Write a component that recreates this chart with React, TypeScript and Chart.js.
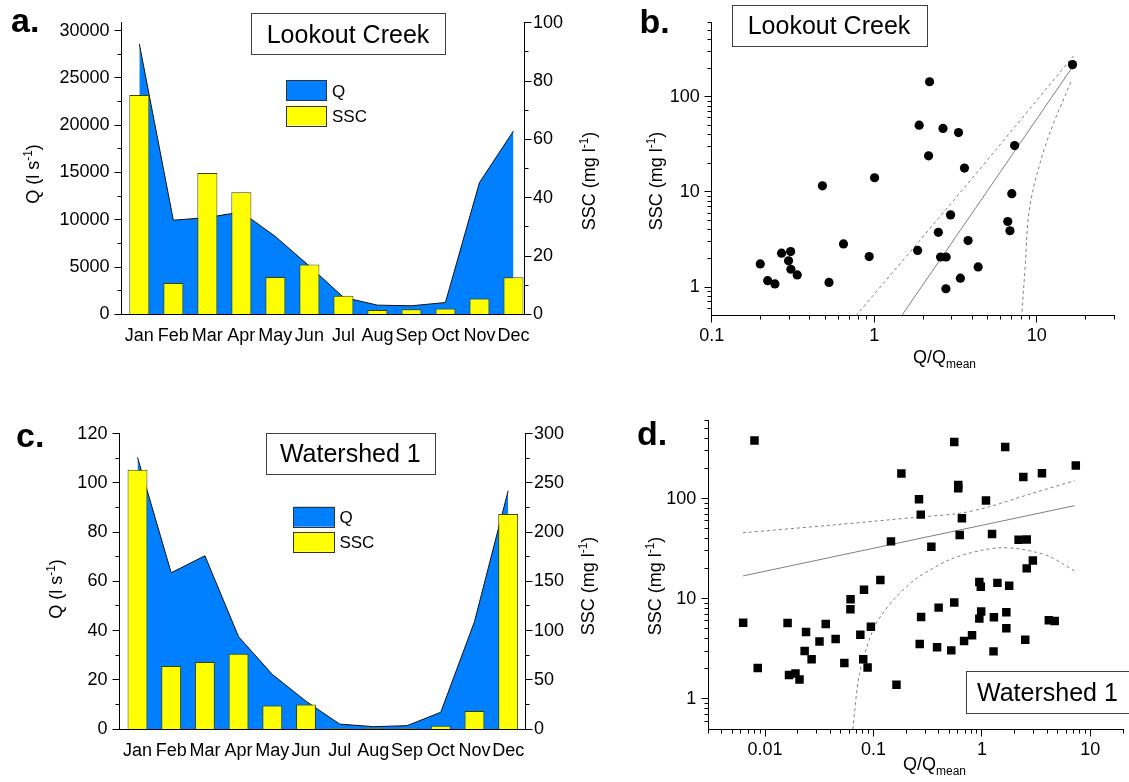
import React, { useEffect, useRef } from 'react';
import { Chart, registerables } from 'chart.js';

Chart.register(...registerables);

const W = 1129;
const H = 782;
const FONT = '"Liberation Sans", Arial, Helvetica, sans-serif';
Chart.defaults.font.family = FONT;
Chart.defaults.font.size = 18;
Chart.defaults.color = '#000';

// ---------- shared ----------
const MONTHS = ['Jan', 'Feb', 'Mar', 'Apr', 'May', 'Jun', 'Jul', 'Aug', 'Sep', 'Oct', 'Nov', 'Dec'];
const MONTH_NUM = [1, 2, 3, 4, 5, 6, 7, 8, 9, 10, 11, 12];

// ---------- panel a: Lookout Creek monthly ----------
const LC_Q = [28600, 9950, 10230, 10820, 8230, 5100, 1800, 970, 900, 1245, 13930, 19390];
const LC_SSC = [75.2, 10.7, 48.5, 41.9, 12.8, 17.1, 6.4, 1.45, 1.7, 2.0, 5.4, 12.7];
const LC_Q_TICKS = [0, 5000, 10000, 15000, 20000, 25000, 30000];
const LC_Q_MINOR = [2500, 7500, 12500, 17500, 22500, 27500];
const LC_SSC_TICKS = [0, 20, 40, 60, 80, 100];
const LC_SSC_MINOR = [10, 30, 50, 70, 90];

// ---------- panel c: Watershed 1 monthly ----------
const WS_Q = [110.4, 63.5, 70.4, 37.5, 22.2, 11.3, 2.0, 0.95, 1.35, 6.8, 43.6, 96.8];
const WS_SSC = [263.5, 64, 68, 76.5, 24, 25, 0.7, 0.7, 0.7, 3.4, 18.3, 218.4];
const WS_Q_TICKS = [0, 20, 40, 60, 80, 100, 120];
const WS_Q_MINOR = [10, 30, 50, 70, 90, 110];
const WS_SSC_TICKS = [0, 50, 100, 150, 200, 250, 300];
const WS_SSC_MINOR = [25, 75, 125, 175, 225, 275];

// ---------- panel b: Lookout Creek SSC vs Q/Qmean ----------
const LC_RATIO = [0.199, 0.221, 0.245, 0.269, 0.306, 0.297, 0.307, 0.336, 0.48, 0.527, 0.647, 0.931, 1.005, 2.19, 1.89, 2.16, 2.65, 3.3, 3.59, 2.95, 2.48, 1.85, 2.56, 2.77, 3.78, 2.76, 3.39, 4.36, 6.63, 6.84, 7.02, 7.31, 16.6];
const LC_CONC = [1.75, 1.166, 1.08, 2.27, 2.36, 1.89, 1.54, 1.34, 11.6, 1.12, 2.84, 2.09, 14.1, 144, 50.3, 24.0, 46.5, 42.1, 17.8, 5.74, 3.76, 2.43, 2.07, 2.07, 3.08, 0.96, 1.24, 1.63, 4.89, 3.91, 9.59, 30.7, 218];
const LC_FIT_X = [1.475, 16.97];
const LC_FIT_Y = [0.5, 218];
const LC_UP_X = [0.772, 3.6, 16.8];
const LC_UP_Y = [0.5, 11.2, 268];
const LC_LO_X = [16.2, 11.5, 9.09, 8.47, 8.08];
const LC_LO_Y = [143, 33.4, 7.2, 1.56, 0.5];

// ---------- panel d: Watershed 1 SSC vs Q/Qmean ----------
const WS_RATIO = [0.008, 0.00629, 0.00857, 0.01615, 0.01665, 0.0191, 0.0208, 0.0239, 0.0232, 0.0269, 0.0318, 0.0363, 0.0448, 0.0539, 0.0615, 0.0613, 0.0818, 0.0757, 0.0947, 0.0805, 0.0883, 0.1158, 0.145, 0.181, 0.163, 0.263, 0.273, 0.342, 0.275, 0.267, 0.399, 0.386, 0.522, 0.556, 0.556, 0.605, 0.605, 0.654, 0.624, 0.685, 0.811, 1.09, 1.24, 0.947, 0.977, 0.985, 0.947, 1.39, 1.785, 1.29, 1.28, 1.68, 1.68, 1.64, 2.18, 2.59, 2.41, 2.59, 2.95, 2.51, 3.58, 4.14, 4.69, 7.34];
const WS_CONC = [381, 5.77, 2.03, 5.73, 1.73, 1.79, 1.56, 4.65, 3.0, 2.48, 3.75, 5.6, 3.96, 2.28, 9.89, 7.85, 12.3, 4.38, 5.26, 2.48, 2.06, 15.4, 37.4, 178, 1.38, 98.5, 69.2, 33.0, 6.58, 3.53, 8.15, 3.27, 3.05, 367, 9.15, 137, 127, 63.5, 43.3, 3.78, 4.31, 95.5, 44.3, 14.7, 13.2, 7.44, 6.33, 14.4, 13.5, 6.53, 2.98, 7.32, 5.06, 327, 38.8, 39.1, 164, 20.1, 24.1, 3.9, 179, 6.09, 6.0, 214];
const WS_FIT_X = [0.00627, 7.17];
const WS_FIT_Y = [16.9, 85.1];
const WS_UP_X = [0.00627, 0.0422, 0.247, 0.618, 1.17, 2.92, 7.17];
const WS_UP_Y = [45.6, 54.5, 65, 71.3, 83, 113, 151];
const WS_LO_X = [0.0645, 0.0743, 0.0985, 0.12, 0.162, 0.24, 0.33, 0.5, 0.72, 1.0, 1.45, 2.2, 3.2, 4.2, 5.5, 7.17];
const WS_LO_Y = [0.5, 1.78, 4.83, 7.0, 10.4, 15.5, 19.3, 24.5, 28, 30.5, 32.3, 31.5, 29, 26.5, 22.5, 18.9];

// ---------- log axis ticks ----------
const LOG_Y_TICKS = [1, 10, 100];
const LOG_Y_MINOR = [0.6, 0.7, 0.8, 0.9, 2, 3, 4, 5, 6, 7, 8, 9, 20, 30, 40, 50, 60, 70, 80, 90, 200, 300, 400, 500, 600];
const B_X_TICKS = [0.1, 1, 10];
const B_X_MINOR = [0.2, 0.3, 0.4, 0.5, 0.6, 0.7, 0.8, 0.9, 2, 3, 4, 5, 6, 7, 8, 9, 20, 30];
const D_X_TICKS = [0.01, 0.1, 1, 10];
const D_X_MINOR = [0.003, 0.004, 0.005, 0.006, 0.007, 0.008, 0.009, 0.02, 0.03, 0.04, 0.05, 0.06, 0.07, 0.08, 0.09, 0.2, 0.3, 0.4, 0.5, 0.6, 0.7, 0.8, 0.9, 2, 3, 4, 5, 6, 7, 8, 9, 20];

const Q_COLOR = '#0080FF';
const SSC_COLOR = '#FFFF00';
const BAR_EDGE = '#404000';
const LINE_GRAY = '#808080';

const AXW = 80;
const AXH = 60;

type Seg = { t: string; s?: 'sup' | 'sub' };

function rich(ctx: CanvasRenderingContext2D, segs: Seg[], x: number, y: number, size: number, rotate: boolean, align: 'left' | 'center') {
  ctx.save();
  ctx.translate(x, y);
  if (rotate) ctx.rotate(-Math.PI / 2);
  ctx.fillStyle = '#000';
  ctx.textAlign = 'left';
  ctx.textBaseline = 'alphabetic';
  const fontOf = (sg: Seg) => `${sg.s ? Math.round(size * 0.66) : size}px ${FONT}`;
  let total = 0;
  segs.forEach((sg) => {
    ctx.font = fontOf(sg);
    total += ctx.measureText(sg.t).width;
  });
  let cx = align === 'center' ? -total / 2 : 0;
  segs.forEach((sg) => {
    ctx.font = fontOf(sg);
    const dy = sg.s === 'sup' ? -size * 0.4 : sg.s === 'sub' ? size * 0.3 : 0;
    ctx.fillText(sg.t, cx, dy);
    cx += ctx.measureText(sg.t).width;
  });
  ctx.restore();
}

function panelLetter(ctx: CanvasRenderingContext2D, t: string, x: number, y: number) {
  ctx.save();
  ctx.font = `bold 34px ${FONT}`;
  ctx.fillStyle = '#000';
  ctx.textAlign = 'left';
  ctx.textBaseline = 'alphabetic';
  ctx.fillText(t, x, y);
  ctx.restore();
}

function titleBox(ctx: CanvasRenderingContext2D, t: string, x0: number, y0: number, x1: number, y1: number, tx: number, base: number, align: 'center' | 'left') {
  ctx.save();
  ctx.fillStyle = '#fff';
  ctx.fillRect(x0, y0, x1 - x0, y1 - y0);
  ctx.strokeStyle = '#404040';
  ctx.lineWidth = 1;
  ctx.strokeRect(Math.round(x0) + 0.5, Math.round(y0) + 0.5, Math.round(x1 - x0), Math.round(y1 - y0));
  ctx.font = `25px ${FONT}`;
  ctx.fillStyle = '#000';
  ctx.textAlign = align;
  ctx.textBaseline = 'alphabetic';
  ctx.fillText(t, tx, base);
  ctx.restore();
}

function legendBox(ctx: CanvasRenderingContext2D, x0: number, x1: number, rows: { y0: number; y1: number; color: string; label: string; base: number }[], tx: number) {
  ctx.save();
  rows.forEach((r) => {
    ctx.fillStyle = r.color;
    ctx.fillRect(x0, r.y0, x1 - x0, r.y1 - r.y0);
    ctx.strokeStyle = '#333';
    ctx.lineWidth = 1;
    ctx.strokeRect(Math.round(x0) + 0.5, Math.round(r.y0) + 0.5, Math.round(x1 - x0), Math.round(r.y1 - r.y0));
    ctx.fillStyle = '#000';
    ctx.font = `17px ${FONT}`;
    ctx.textAlign = 'left';
    ctx.textBaseline = 'alphabetic';
    ctx.fillText(r.label, tx, r.base);
  });
  ctx.restore();
}

type TickSpec = Record<string, { major: number[]; minor: number[]; side: 'left' | 'right' | 'bottom' }>;

function tickPlugin(spec: TickSpec) {
  return {
    id: 'axisTicks',
    afterDraw(chart: any) {
      const ctx = chart.ctx as CanvasRenderingContext2D;
      ctx.save();
      ctx.strokeStyle = '#000';
      ctx.lineWidth = 1;
      Object.keys(spec).forEach((id) => {
        const sc = chart.scales[id];
        const { major, minor, side } = spec[id];
        const draw = (v: number, len: number) => {
          const p = Math.round(sc.getPixelForValue(v) - 0.5) + 0.5;
          ctx.beginPath();
          if (side === 'bottom') {
            const y0 = Math.round(sc.top - 0.5) + 0.5;
            ctx.moveTo(p, y0);
            ctx.lineTo(p, y0 + len);
          } else if (side === 'left') {
            const x0 = Math.round(sc.right - 0.5) + 0.5;
            ctx.moveTo(x0, p);
            ctx.lineTo(x0 - len, p);
          } else {
            const x0 = Math.round(sc.left - 0.5) + 0.5;
            ctx.moveTo(x0, p);
            ctx.lineTo(x0 + len, p);
          }
          ctx.stroke();
        };
        major.forEach((v) => draw(v, 7));
        minor.forEach((v) => draw(v, 4));
      });
      ctx.restore();
    },
  };
}

function decorPlugin(fn: (ctx: CanvasRenderingContext2D) => void) {
  return {
    id: 'decor',
    afterDraw(chart: any) {
      fn(chart.ctx);
    },
  };
}

const axisBase = {
  grid: { display: false, drawTicks: false },
  border: { display: true, color: '#000', width: 1 },
};

type Area = { L: number; R: number; T: number; B: number };

function monthlyChart(
  canvas: HTMLCanvasElement,
  o: {
    q: number[]; ssc: number[]; qMax: number; qTicks: number[]; qMinor: number[];
    sscMax: number; sscTicks: number[]; sscMinor: number[]; xMin: number; xMax: number;
    area: Area; decor: (ctx: CanvasRenderingContext2D) => void;
  }
) {
  const { L, R, T, B } = o.area;
  return new Chart(canvas, {
    type: 'bar',
    data: {
      datasets: [
        {
          type: 'bar',
          label: 'SSC',
          data: MONTH_NUM.map((m, i) => ({ x: m, y: o.ssc[i] })),
          yAxisID: 'y2',
          backgroundColor: SSC_COLOR,
          borderColor: BAR_EDGE,
          borderWidth: 1,
          barPercentage: 0.59,
          categoryPercentage: 1,
          order: 1,
        } as any,
        {
          type: 'line',
          label: 'Q',
          data: MONTH_NUM.map((m, i) => ({ x: m, y: o.q[i] })),
          yAxisID: 'y',
          fill: 'origin',
          backgroundColor: Q_COLOR,
          borderColor: '#111',
          borderWidth: 1,
          pointRadius: 0,
          tension: 0,
          order: 2,
        } as any,
      ],
    },
    options: {
      responsive: false,
      animation: false,
      devicePixelRatio: 1,
      events: [],
      layout: { padding: { left: L - AXW, right: W - R - AXW, top: T, bottom: H - B - AXH } },
      plugins: { legend: { display: false }, tooltip: { enabled: false } },
      scales: {
        x: {
          ...axisBase,
          type: 'linear',
          position: 'bottom',
          min: o.xMin,
          max: o.xMax,
          offset: false,
          ticks: {
            padding: 11, color: '#000', font: { size: 18 }, autoSkip: false, maxRotation: 0, minRotation: 0,
            callback: (v: any) => MONTHS[Math.round(Number(v)) - 1] ?? '',
          },
          afterBuildTicks: (s: any) => { s.ticks = MONTH_NUM.map((v) => ({ value: v })); },
          afterFit: (s: any) => { s.height = AXH; },
        },
        y: {
          ...axisBase,
          type: 'linear',
          position: 'left',
          min: 0,
          max: o.qMax,
          ticks: { padding: 12, color: '#000', font: { size: 18 }, autoSkip: false, callback: (v: any) => String(v) },
          afterBuildTicks: (s: any) => { s.ticks = o.qTicks.map((v) => ({ value: v })); },
          afterFit: (s: any) => { s.width = AXW; },
        },
        y2: {
          ...axisBase,
          type: 'linear',
          position: 'right',
          min: 0,
          max: o.sscMax,
          ticks: { padding: 9, color: '#000', font: { size: 18 }, autoSkip: false, callback: (v: any) => String(v) },
          afterBuildTicks: (s: any) => { s.ticks = o.sscTicks.map((v) => ({ value: v })); },
          afterFit: (s: any) => { s.width = AXW; },
        },
      } as any,
    },
    plugins: [
      tickPlugin({
        y: { major: o.qTicks, minor: o.qMinor, side: 'left' },
        y2: { major: o.sscTicks, minor: o.sscMinor, side: 'right' },
      }),
      decorPlugin(o.decor),
    ],
  } as any);
}

function scatterChart(
  canvas: HTMLCanvasElement,
  o: {
    xs: number[]; ys: number[]; style: string; radius: number;
    lines: { x: number[]; y: number[]; dash: boolean; tension: number }[];
    xMin: number; xMax: number; xTicks: number[]; xMinor: number[];
    area: Area; decor: (ctx: CanvasRenderingContext2D) => void;
  }
) {
  const { L, R, T, B } = o.area;
  const lineSets = o.lines.map((ln) => ({
    type: 'line',
    data: ln.x.map((x, i) => ({ x, y: ln.y[i] })),
    borderColor: LINE_GRAY,
    borderWidth: 1,
    borderDash: ln.dash ? [3, 3] : [],
    pointRadius: 0,
    fill: false,
    tension: ln.tension,
    order: 2,
  }));
  return new Chart(canvas, {
    type: 'scatter',
    data: {
      datasets: [
        {
          label: 'SSC',
          data: o.xs.map((x, i) => ({ x, y: o.ys[i] })),
          pointStyle: o.style,
          pointRadius: o.radius,
          backgroundColor: '#000',
          borderColor: '#000',
          borderWidth: 0,
          order: 1,
        } as any,
        ...(lineSets as any[]),
      ],
    },
    options: {
      responsive: false,
      animation: false,
      devicePixelRatio: 1,
      events: [],
      layout: { padding: { left: L - AXW, right: W - R, top: T, bottom: H - B - AXH } },
      plugins: { legend: { display: false }, tooltip: { enabled: false } },
      scales: {
        x: {
          ...axisBase,
          type: 'logarithmic',
          position: 'bottom',
          min: o.xMin,
          max: o.xMax,
          ticks: { padding: 10, color: '#000', font: { size: 18 }, autoSkip: false, maxRotation: 0, callback: (v: any) => String(v) },
          afterBuildTicks: (s: any) => { s.ticks = o.xTicks.map((v) => ({ value: v })); },
          afterFit: (s: any) => { s.height = AXH; },
        },
        y: {
          ...axisBase,
          type: 'logarithmic',
          position: 'left',
          min: 0.5,
          max: 600,
          ticks: { padding: 12, color: '#000', font: { size: 18 }, autoSkip: false, callback: (v: any) => String(v) },
          afterBuildTicks: (s: any) => { s.ticks = LOG_Y_TICKS.map((v) => ({ value: v })); },
          afterFit: (s: any) => { s.width = AXW; },
        },
      } as any,
    },
    plugins: [
      tickPlugin({
        x: { major: o.xTicks, minor: o.xMinor, side: 'bottom' },
        y: { major: LOG_Y_TICKS, minor: LOG_Y_MINOR, side: 'left' },
      }),
      decorPlugin(o.decor),
    ],
  } as any);
}

const Q_TITLE: Seg[] = [{ t: 'Q (l s' }, { t: '-1', s: 'sup' }, { t: ')' }];
const SSC_TITLE: Seg[] = [{ t: 'SSC (mg l' }, { t: '-1', s: 'sup' }, { t: ')' }];
const RATIO_TITLE: Seg[] = [{ t: 'Q/Q' }, { t: 'mean', s: 'sub' }];

export default function App() {
  const ra = useRef<HTMLCanvasElement>(null);
  const rb = useRef<HTMLCanvasElement>(null);
  const rc = useRef<HTMLCanvasElement>(null);
  const rd = useRef<HTMLCanvasElement>(null);

  useEffect(() => {
    document.body.style.margin = '0';
    const charts: Chart[] = [];

    charts.push(
      monthlyChart(ra.current!, {
        q: LC_Q, ssc: LC_SSC, qMax: 30826, qTicks: LC_Q_TICKS, qMinor: LC_Q_MINOR,
        sscMax: 100, sscTicks: LC_SSC_TICKS, sscMinor: LC_SSC_MINOR, xMin: 0.476, xMax: 12.31,
        area: { L: 121.5, R: 524, T: 16, B: 314.3 },
        decor: (ctx) => {
          panelLetter(ctx, 'a.', 11, 32);
          titleBox(ctx, 'Lookout Creek', 250.6, 13.3, 444.8, 54.3, 348, 43.3, 'center');
          legendBox(ctx, 286, 326, [
            { y0: 80, y1: 100, color: Q_COLOR, label: 'Q', base: 96.5 },
            { y0: 105.7, y1: 125.3, color: SSC_COLOR, label: 'SSC', base: 121.5 },
          ], 332);
          rich(ctx, Q_TITLE, 39, 174, 18, true, 'center');
          rich(ctx, SSC_TITLE, 595, 181, 18, true, 'center');
        },
      })
    );

    charts.push(
      scatterChart(rb.current!, {
        xs: LC_RATIO, ys: LC_CONC, style: 'circle', radius: 4.6,
        lines: [
          { x: LC_FIT_X, y: LC_FIT_Y, dash: false, tension: 0 },
          { x: LC_UP_X, y: LC_UP_Y, dash: true, tension: 0.3 },
          { x: LC_LO_X, y: LC_LO_Y, dash: true, tension: 0.35 },
        ],
        xMin: 0.1, xMax: 30, xTicks: B_X_TICKS, xMinor: B_X_MINOR,
        area: { L: 711.7, R: 1114.3, T: 7, B: 315.7 },
        decor: (ctx) => {
          panelLetter(ctx, 'b.', 639.5, 33);
          titleBox(ctx, 'Lookout Creek', 731.5, 5, 926.7, 46, 829, 34.3, 'center');
          rich(ctx, SSC_TITLE, 662, 181, 18, true, 'center');
          rich(ctx, RATIO_TITLE, 913, 363, 18, false, 'left');
        },
      })
    );

    charts.push(
      monthlyChart(rc.current!, {
        q: WS_Q, ssc: WS_SSC, qMax: 120, qTicks: WS_Q_TICKS, qMinor: WS_Q_MINOR,
        sscMax: 300, sscTicks: WS_SSC_TICKS, sscMinor: WS_SSC_MINOR, xMin: 0.463, xMax: 12.5,
        area: { L: 119.4, R: 525, T: 433.7, B: 729 },
        decor: (ctx) => {
          panelLetter(ctx, 'c.', 16, 446.7);
          titleBox(ctx, 'Watershed 1', 265.6, 432.7, 435, 474, 350.3, 462.3, 'center');
          legendBox(ctx, 293.4, 334, [
            { y0: 506.7, y1: 526.7, color: Q_COLOR, label: 'Q', base: 523 },
            { y0: 531.7, y1: 551.7, color: SSC_COLOR, label: 'SSC', base: 548 },
          ], 339.4);
          rich(ctx, Q_TITLE, 62, 589, 18, true, 'center');
          rich(ctx, SSC_TITLE, 594, 586, 18, true, 'center');
        },
      })
    );

    charts.push(
      scatterChart(rd.current!, {
        xs: WS_RATIO, ys: WS_CONC, style: 'rect', radius: 6,
        lines: [
          { x: WS_FIT_X, y: WS_FIT_Y, dash: false, tension: 0 },
          { x: WS_UP_X, y: WS_UP_Y, dash: true, tension: 0.3 },
          { x: WS_LO_X, y: WS_LO_Y, dash: true, tension: 0.3 },
        ],
        xMin: 0.003, xMax: 20, xTicks: D_X_TICKS, xMinor: D_X_MINOR,
        area: { L: 708.3, R: 1123.3, T: 420.7, B: 729 },
        decor: (ctx) => {
          panelLetter(ctx, 'd.', 637, 445);
          titleBox(ctx, 'Watershed 1', 965.6, 670.7, 1140, 712.3, 977, 700.5, 'left');
          rich(ctx, SSC_TITLE, 661, 586, 18, true, 'center');
          rich(ctx, RATIO_TITLE, 903, 770, 18, false, 'left');
        },
      })
    );

    return () => charts.forEach((c) => c.destroy());
  }, []);

  const cs: React.CSSProperties = { position: 'absolute', left: 0, top: 0 };
  return (
    <div style={{ position: 'absolute', left: 0, top: 0, width: W, height: H, background: '#fff', overflow: 'hidden' }}>
      <canvas ref={ra} width={W} height={H} style={cs} />
      <canvas ref={rb} width={W} height={H} style={cs} />
      <canvas ref={rc} width={W} height={H} style={cs} />
      <canvas ref={rd} width={W} height={H} style={cs} />
    </div>
  );
}
